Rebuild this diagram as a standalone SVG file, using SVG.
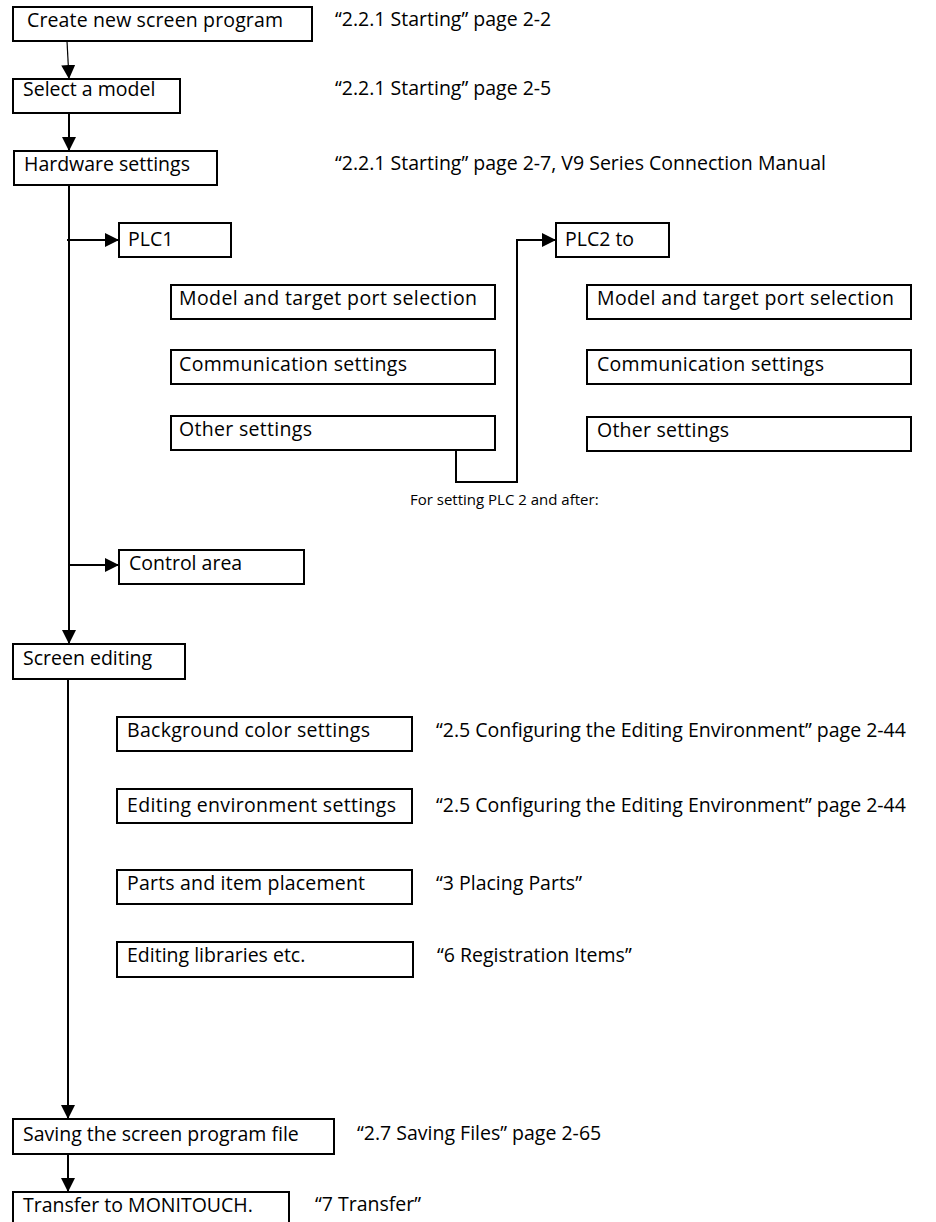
<svg xmlns="http://www.w3.org/2000/svg" width="936" height="1222" viewBox="0 0 936 1222">
<defs>
<style>
.box{fill:#fff;stroke:#000;stroke-width:2}
.t{font-family:"Open Sans","Noto Sans","DejaVu Sans",sans-serif;font-size:19.5px;fill:#000}
.s{font-family:"Open Sans","Noto Sans","DejaVu Sans",sans-serif;font-size:15px;fill:#000}
.c{fill:none;stroke:#000;stroke-width:2}
.thin{fill:none;stroke:#000;stroke-width:1.2}
</style>
<marker id="ah" viewBox="0 0 14 14" refX="14" refY="7" markerWidth="14" markerHeight="14" markerUnits="userSpaceOnUse" orient="auto">
<path d="M0,0 L14,7 L0,14 Z" fill="#000"/>
</marker>
</defs>
<rect width="936" height="1222" fill="#fff"/>
<g id="connectors">
<line class="thin" x1="67" y1="41" x2="69" y2="79" marker-end="url(#ah)"/>
<line class="c" x1="69" y1="113" x2="69" y2="151" marker-end="url(#ah)"/>
<line class="c" x1="69" y1="185" x2="69" y2="644" marker-end="url(#ah)"/>
<line class="c" x1="67" y1="240" x2="119" y2="240" marker-end="url(#ah)"/>
<line class="c" x1="69" y1="565" x2="119" y2="565" marker-end="url(#ah)"/>
<polyline class="c" points="456,450 456,482 517,482 517,240 556,240" marker-end="url(#ah)"/>
<line class="c" x1="68" y1="679" x2="68" y2="1119" marker-end="url(#ah)"/>
<line class="c" x1="68" y1="1154" x2="68" y2="1192" marker-end="url(#ah)"/>
</g>
<g id="n-create"><rect class="box" x="13" y="7" width="299" height="34"/><text class="t" x="27" y="27" textLength="256">Create new screen program</text></g>
<g id="n-select"><rect class="box" x="13" y="79" width="167" height="34"/><text class="t" x="23" y="96">Select a model</text></g>
<g id="n-hardware"><rect class="box" x="14" y="151" width="203" height="34"/><text class="t" x="24" y="171">Hardware settings</text></g>
<g id="n-plc1"><rect class="box" x="119" y="223" width="112" height="34"/><text class="t" x="128" y="246">PLC1</text></g>
<g id="n-model1"><rect class="box" x="171" y="285" width="324" height="34"/><text class="t" x="179" y="305" textLength="298">Model and target port selection</text></g>
<g id="n-comm1"><rect class="box" x="171" y="350" width="324" height="34"/><text class="t" x="179" y="371" textLength="228">Communication settings</text></g>
<g id="n-other1"><rect class="box" x="171" y="416" width="324" height="34"/><text class="t" x="179" y="436" textLength="133">Other settings</text></g>
<g id="n-plc2"><rect class="box" x="556" y="223" width="113" height="34"/><text class="t" x="565" y="246">PLC2 to</text></g>
<g id="n-model2"><rect class="box" x="587" y="285" width="324" height="34"/><text class="t" x="597" y="305" textLength="297">Model and target port selection</text></g>
<g id="n-comm2"><rect class="box" x="587" y="350" width="324" height="34"/><text class="t" x="597" y="371" textLength="227">Communication settings</text></g>
<g id="n-other2"><rect class="box" x="587" y="417" width="324" height="34"/><text class="t" x="597" y="437" textLength="132">Other settings</text></g>
<g id="n-control"><rect class="box" x="119" y="550" width="185" height="34"/><text class="t" x="129" y="570">Control area</text></g>
<g id="n-screen"><rect class="box" x="13" y="644" width="172" height="35"/><text class="t" x="23" y="665">Screen editing</text></g>
<g id="n-bg"><rect class="box" x="117" y="717" width="295" height="34"/><text class="t" x="127" y="737" textLength="243">Background color settings</text></g>
<g id="n-env"><rect class="box" x="117" y="789" width="295" height="34"/><text class="t" x="127" y="812" textLength="269">Editing environment settings</text></g>
<g id="n-parts"><rect class="box" x="117" y="870" width="295" height="34"/><text class="t" x="127" y="890" textLength="238">Parts and item placement</text></g>
<g id="n-lib"><rect class="box" x="117" y="942" width="296" height="35"/><text class="t" x="127" y="962">Editing libraries etc.</text></g>
<g id="n-save"><rect class="box" x="13" y="1119" width="321" height="35"/><text class="t" x="23" y="1141">Saving the screen program file</text></g>
<g id="n-transfer"><rect class="box" x="13" y="1192" width="276" height="40"/><text class="t" x="23" y="1212">Transfer to MONITOUCH.</text></g>
<g id="refs">
<text class="t" x="335" y="26">“2.2.1 Starting” page 2-2</text>
<text class="t" x="335" y="95">“2.2.1 Starting” page 2-5</text>
<text class="t" x="335" y="170">“2.2.1 Starting” page 2-7, V9 Series Connection Manual</text>
<text class="s" x="410" y="505">For setting PLC 2 and after:</text>
<text class="t" x="436" y="737">“2.5 Configuring the Editing Environment” page 2-44</text>
<text class="t" x="436" y="812">“2.5 Configuring the Editing Environment” page 2-44</text>
<text class="t" x="436" y="890">“3 Placing Parts”</text>
<text class="t" x="437" y="962">“6 Registration Items”</text>
<text class="t" x="357" y="1140">“2.7 Saving Files” page 2-65</text>
<text class="t" x="315" y="1211">“7 Transfer”</text>
</g>
</svg>
